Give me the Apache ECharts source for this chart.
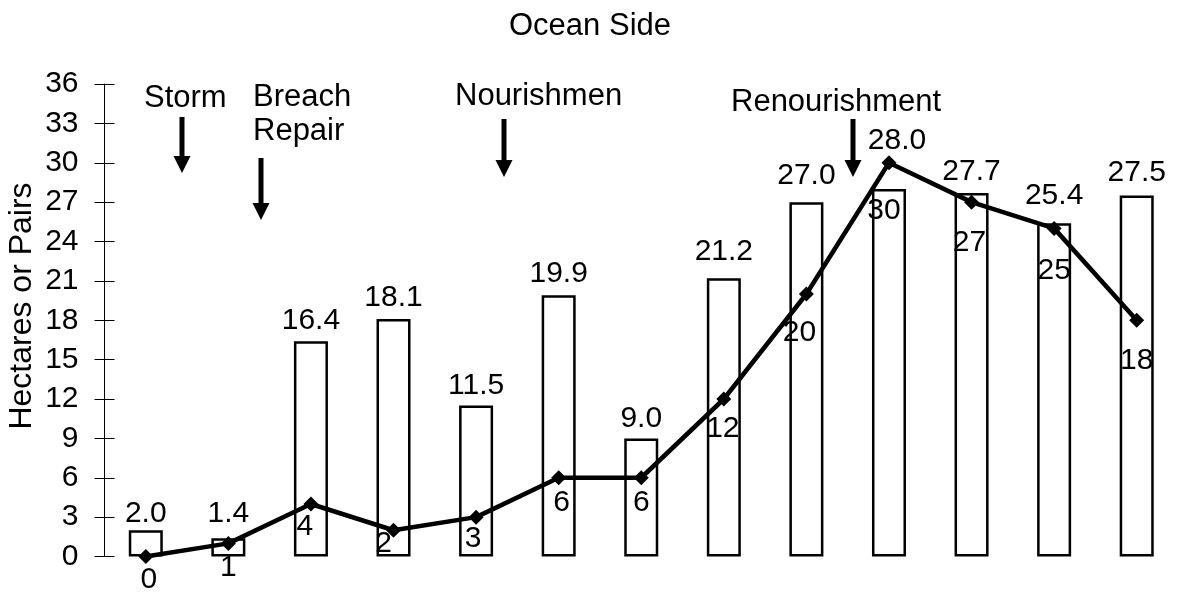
<!DOCTYPE html>
<html>
<head>
<meta charset="utf-8">
<script src="https://cdn.jsdelivr.net/npm/echarts@6/dist/echarts.min.js"></script>
<style>html,body{margin:0;padding:0;background:#fff}#c{width:1180px;height:594px}</style>
</head>
<body>
<div id="c"></div>
<script>
// ---- data ----
const categories = ['1','2','3','4','5','6','7','8','9','10','11','12','13'];
const hectares = [2.0, 1.4, 16.4, 18.1, 11.5, 19.9, 9.0, 21.2, 27.0, 28.0, 27.7, 25.4, 27.5];
const pairs = [0, 1, 4, 2, 3, 6, 6, 12, 20, 30, 27, 25, 18];
const yTicks = {min: 0, max: 36, step: 3};
const titleText = 'Ocean Side';
const yName = 'Hectares or Pairs';
const eventNotes = ['Storm', 'Breach\nRepair', 'Nourishmen', 'Renourishment'];

// ---- styling (label nudges, as the labels were placed in the original) ----
const pairLabelNudge = [[3,22],[0,23],[-6,22],[-10,12],[-3,21],[3,24],[0,24],[-1,29],[-7,38],[-5,47],[-2,40],[0,41],[0,39]];
const barLabelNudge = [[0,0],[0,-7],[0,-4],[0,-4],[0,-3],[0,-5],[0,-3],[0,-10],[0,-9],[8,-31],[0,-4],[0,-10],[0,-6]];
const FONT = 'Liberation Sans, Arial, sans-serif';

const chart = echarts.init(document.getElementById('c'), null, {renderer: 'canvas'});

function arrow(cx, top, tip) {
  const headH = 17, headW = 17, shaftW = 5;
  return {
    type: 'group',
    children: [
      {type: 'rect', shape: {x: cx - shaftW / 2, y: top, width: shaftW, height: tip - headH - top + 1}, style: {fill: '#000'}},
      {type: 'polygon', shape: {points: [[cx - headW / 2, tip - headH], [cx + headW / 2, tip - headH], [cx, tip]]}, style: {fill: '#000'}}
    ]
  };
}

const noteStyle = {fill: '#000', font: '31px ' + FONT};

const option = {
  animation: false,
  backgroundColor: '#fff',
  title: {
    text: titleText, left: 'center', top: 6,
    textStyle: {fontFamily: FONT, fontSize: 31, fontWeight: 'normal', color: '#000'}
  },
  grid: {left: 104.5, right: 2, top: 84, bottom: 37.5, containLabel: false},
  xAxis: {
    type: 'category', data: categories,
    axisLine: {show: false}, axisTick: {show: false}, axisLabel: {show: false}
  },
  yAxis: [
    {
      type: 'value', min: yTicks.min, max: yTicks.max, interval: yTicks.step,
      splitLine: {show: false},
      axisLine: {show: true, lineStyle: {color: '#000', width: 1}},
      axisTick: {show: true, length: 10, lineStyle: {color: '#000', width: 1}},
      axisLabel: {color: '#000', fontSize: 30, fontFamily: FONT, margin: 26}
    },
    {
      type: 'value', position: 'left', min: yTicks.min, max: yTicks.max, interval: yTicks.step,
      splitLine: {show: false},
      axisLine: {show: false},
      axisTick: {show: true, inside: true, length: 10, lineStyle: {color: '#000', width: 1}},
      axisLabel: {show: false}
    }
  ],
  series: [
    {
      type: 'bar', yAxisIndex: 0, barWidth: 34,
      data: hectares.map((v, i) => ({value: v, label: {offset: barLabelNudge[i]}})),
      itemStyle: {color: '#fff', borderColor: '#000', borderWidth: 2.5},
      label: {
        show: true, position: 'top', distance: 2, color: '#000',
        fontSize: 30, fontFamily: FONT,
        formatter: p => p.value.toFixed(1)
      },
      z: 2
    },
    {
      type: 'line', yAxisIndex: 0,
      data: pairs.map((v, i) => ({
        value: v,
        label: {offset: [pairLabelNudge[i][0], pairLabelNudge[i][1] + 1]}
      })),
      symbol: 'diamond', symbolSize: 15,
      lineStyle: {color: '#000', width: 4.5},
      itemStyle: {color: '#000'},
      label: {
        show: true, position: 'inside', color: '#000',
        fontSize: 30, fontFamily: FONT
      },
      z: 3
    }
  ],
  graphic: [
    {type: 'text', x: 22, y: 306, rotation: Math.PI / 2,
      style: {text: yName, fill: '#000', font: '32px ' + FONT, align: 'center', verticalAlign: 'middle'}},
    {type: 'text', x: 144, y: 98, style: Object.assign({text: eventNotes[0], verticalAlign: 'middle'}, noteStyle)},
    {type: 'text', x: 253, y: 80, style: Object.assign({text: eventNotes[1], verticalAlign: 'top', lineHeight: 34}, noteStyle)},
    {type: 'text', x: 455, y: 96, style: Object.assign({text: eventNotes[2], verticalAlign: 'middle'}, noteStyle)},
    {type: 'text', x: 731, y: 102, style: Object.assign({text: eventNotes[3], verticalAlign: 'middle'}, noteStyle)},
    arrow(182, 117, 173),
    arrow(261, 158, 220),
    arrow(504, 119, 177),
    arrow(853, 119, 177)
  ]
};
chart.setOption(option);
</script>
</body>
</html>
